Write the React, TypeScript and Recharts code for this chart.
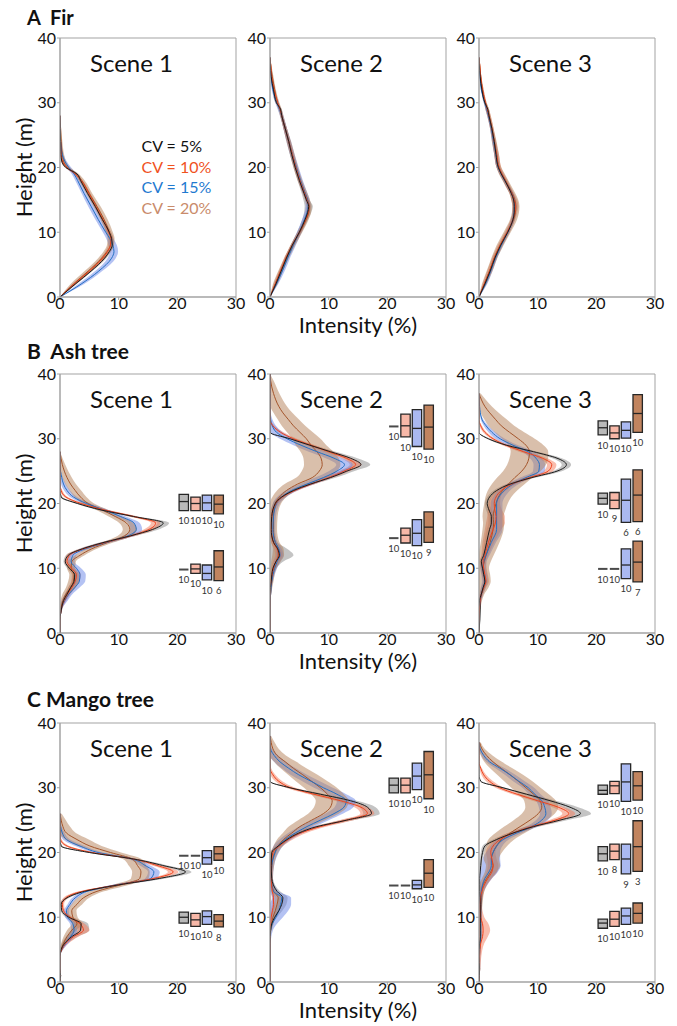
import React from "react";
import { ComposedChart, Area, Line, XAxis, YAxis, ReferenceArea, ReferenceLine } from "recharts";

const FONT = "Lato, 'Open Sans', sans-serif";
const AXIS = "#a3a3a3";

const seriesKeys = ["cv5", "cv10", "cv15", "cv20"];
const lineColors = ["#1c1c1c", "#ef431d", "#2470c4", "#a4552b"];
const bandColors = ["#8a8a8a", "#f47a5a", "#6a86e8", "#b47f58"];
const boxFills = ["#b9b9b9", "#f7b8a8", "#aab9f1", "#c1845f"];
const legendLabels = ["CV = 5%", "CV = 10%", "CV = 15%", "CV = 20%"];
const legendColors = ["#111111", "#f0521e", "#1f7ad0", "#c98b6b"];
const xTicks = [0, 10, 20, 30];
const yTicks = [0, 10, 20, 30, 40];
const boxSlots = [21.1, 23.1, 25.05, 27.05];

// ---- A Fir ----
const firS1H = [0, 2, 4, 6, 7, 8, 9, 10, 12, 14, 16, 18, 19, 20, 21, 22, 24, 26, 28];
const firS1Lines = [
  [0, 2.6, 5.3, 7.6, 8.4, 8.9, 8.8, 8.4, 7.2, 6.0, 4.7, 3.5, 2.9, 1.0, 0.3, 0.15, 0.1, 0.05, 0],
  [0, 2.4, 5.0, 7.3, 8.1, 8.6, 8.7, 8.3, 7.3, 6.1, 4.9, 3.6, 2.6, 1.2, 0.4, 0.2, 0.1, 0, 0],
  [0, 3.6, 6.6, 8.8, 9.2, 9.0, 8.5, 7.8, 6.5, 5.3, 4.1, 3.0, 2.4, 1.5, 0.8, 0.4, 0.1, 0, 0],
  [0, 2.3, 4.8, 7.1, 8.0, 8.6, 8.7, 8.4, 7.5, 6.3, 5.0, 3.7, 2.8, 1.3, 0.6, 0.4, 0.2, 0.1, 0],
];
const firS1Bands = [
  [0, 0.2, 0.2, 0.3, 0.3, 0.3, 0.3, 0.3, 0.2, 0.2, 0.2, 0.2, 0.2, 0.2, 0.1, 0.1, 0, 0, 0],
  [0, 0.3, 0.3, 0.4, 0.4, 0.4, 0.4, 0.4, 0.3, 0.3, 0.3, 0.3, 0.3, 0.3, 0.2, 0.1, 0.1, 0, 0],
  [0, 0.5, 0.6, 0.7, 0.7, 0.7, 0.6, 0.5, 0.5, 0.5, 0.4, 0.4, 0.4, 0.4, 0.3, 0.2, 0.1, 0, 0],
  [0, 0.5, 0.6, 0.6, 0.6, 0.6, 0.6, 0.6, 0.6, 0.6, 0.5, 0.5, 0.4, 0.4, 0.4, 0.3, 0.2, 0.1, 0],
];

const firS2H = [0, 2, 4, 6, 8, 10, 12, 13, 14, 15, 16, 18, 20, 22, 24, 26, 28, 29, 30, 32, 34, 36, 37];
const firS2Lines = [
  [0, 1.0, 1.9, 2.8, 3.8, 5.0, 6.0, 6.4, 6.6, 6.2, 5.8, 5.0, 4.3, 3.7, 3.2, 2.6, 2.0, 1.8, 1.1, 0.6, 0.2, 0.05, 0],
  [0, 0.9, 1.8, 2.7, 3.8, 5.0, 6.1, 6.5, 6.6, 6.3, 5.9, 5.1, 4.4, 3.8, 3.2, 2.6, 2.0, 1.7, 1.3, 0.7, 0.3, 0.1, 0],
  [0, 1.1, 2.1, 3.0, 4.0, 5.0, 5.9, 6.3, 6.5, 6.4, 6.0, 5.2, 4.5, 3.8, 3.2, 2.6, 2.0, 1.6, 1.2, 0.5, 0.2, 0, 0],
  [0, 0.9, 1.8, 2.8, 3.9, 5.1, 6.2, 6.6, 6.7, 6.4, 6.0, 5.1, 4.4, 3.8, 3.2, 2.6, 2.0, 1.7, 1.3, 0.8, 0.4, 0.1, 0],
];
const firS2Bands = [
  [0, 0.2, 0.3, 0.3, 0.3, 0.4, 0.5, 0.6, 0.7, 0.5, 0.4, 0.3, 0.3, 0.3, 0.3, 0.3, 0.2, 0.2, 0.2, 0.2, 0.1, 0, 0],
  [0, 0.3, 0.3, 0.3, 0.3, 0.3, 0.3, 0.3, 0.3, 0.3, 0.3, 0.3, 0.3, 0.3, 0.3, 0.3, 0.2, 0.2, 0.2, 0.2, 0.1, 0.1, 0],
  [0, 0.3, 0.4, 0.4, 0.4, 0.4, 0.4, 0.4, 0.4, 0.4, 0.4, 0.4, 0.4, 0.4, 0.4, 0.3, 0.3, 0.3, 0.3, 0.2, 0.1, 0, 0],
  [0, 0.4, 0.4, 0.4, 0.4, 0.4, 0.4, 0.4, 0.4, 0.4, 0.4, 0.4, 0.4, 0.4, 0.4, 0.3, 0.3, 0.3, 0.3, 0.2, 0.2, 0.1, 0],
];

const firS3H = [0, 2, 4, 6, 8, 10, 12, 13, 14, 15, 16, 17, 18, 19, 20, 22, 24, 26, 28, 29, 30, 32, 34, 36, 37];
const firS3Lines = [
  [0, 1.0, 1.9, 2.7, 3.7, 4.9, 5.8, 6.0, 6.0, 5.9, 5.5, 5.0, 4.4, 3.8, 3.3, 2.9, 2.6, 2.2, 1.7, 1.5, 1.0, 0.5, 0.2, 0.05, 0],
  [0, 0.9, 1.8, 2.6, 3.6, 4.8, 5.8, 6.1, 6.2, 6.0, 5.6, 5.0, 4.5, 3.9, 3.4, 3.0, 2.6, 2.2, 1.7, 1.4, 1.1, 0.6, 0.3, 0.1, 0],
  [0, 1.1, 2.0, 2.8, 3.8, 4.9, 5.8, 6.0, 6.1, 6.0, 5.6, 5.0, 4.4, 3.8, 3.3, 2.9, 2.5, 2.1, 1.6, 1.3, 1.0, 0.4, 0.2, 0, 0],
  [0, 0.9, 1.8, 2.6, 3.6, 4.8, 5.9, 6.2, 6.3, 6.1, 5.7, 5.1, 4.5, 3.9, 3.4, 3.0, 2.6, 2.2, 1.7, 1.4, 1.1, 0.6, 0.3, 0.1, 0],
];
const firS3Bands = [
  [0, 0.2, 0.2, 0.3, 0.3, 0.3, 0.3, 0.3, 0.3, 0.3, 0.3, 0.3, 0.3, 0.3, 0.3, 0.3, 0.3, 0.2, 0.2, 0.2, 0.2, 0.1, 0.1, 0, 0],
  [0, 0.3, 0.4, 0.4, 0.4, 0.4, 0.4, 0.4, 0.5, 0.5, 0.4, 0.4, 0.4, 0.4, 0.4, 0.4, 0.3, 0.3, 0.3, 0.3, 0.2, 0.2, 0.1, 0.1, 0],
  [0, 0.3, 0.3, 0.3, 0.3, 0.3, 0.3, 0.3, 0.3, 0.3, 0.3, 0.3, 0.3, 0.3, 0.3, 0.3, 0.3, 0.2, 0.2, 0.2, 0.2, 0.1, 0.1, 0, 0],
  [0, 0.4, 0.5, 0.5, 0.6, 0.6, 0.6, 0.6, 0.6, 0.6, 0.5, 0.5, 0.5, 0.5, 0.4, 0.4, 0.4, 0.3, 0.3, 0.3, 0.2, 0.2, 0.1, 0.1, 0],
];

// ---- B Ash tree ----
const ashS1H = [0, 2, 3, 4, 5, 6, 7, 8, 9, 10, 11, 12, 13, 14, 15, 16, 17, 18, 19, 20, 21, 22, 23, 24, 26, 28];
const ashS1Lines = [
  [0, 0, 0.1, 0.3, 0.6, 1.2, 1.8, 2.4, 2.5, 1.6, 0.9, 1.4, 3.8, 7.5, 12.0, 15.8, 17.6, 12.5, 7.0, 3.0, 0.2, 0, 0, 0, 0, 0],
  [0, 0, 0.1, 0.3, 0.7, 1.3, 2.0, 2.6, 2.8, 2.0, 1.2, 1.6, 4.0, 7.8, 12.0, 15.2, 16.3, 12.5, 7.6, 3.6, 1.0, 0.2, 0, 0, 0, 0],
  [0, 0, 0.1, 0.3, 0.8, 1.5, 2.5, 3.3, 3.4, 2.8, 1.9, 2.2, 4.3, 8.0, 11.6, 13.0, 12.6, 10.3, 7.5, 4.5, 2.3, 1.2, 0.6, 0.3, 0, 0],
  [0, 0, 0.1, 0.2, 0.5, 1.0, 1.8, 2.3, 2.4, 1.9, 2.0, 3.4, 5.4, 8.2, 11.0, 11.9, 11.3, 9.4, 7.2, 4.8, 3.5, 2.6, 1.8, 1.2, 0.4, 0],
];
const ashS1Bands = [
  [0, 0, 0.1, 0.2, 0.3, 0.3, 0.4, 0.4, 0.4, 0.4, 0.3, 0.4, 0.5, 0.6, 0.8, 1.0, 1.0, 0.8, 0.6, 0.4, 0.2, 0, 0, 0, 0, 0],
  [0, 0, 0.1, 0.2, 0.4, 0.5, 0.6, 0.7, 0.8, 0.6, 0.4, 0.5, 0.6, 0.7, 0.8, 0.9, 0.8, 0.7, 0.6, 0.5, 0.3, 0.2, 0, 0, 0, 0],
  [0, 0, 0.1, 0.2, 0.5, 0.6, 0.8, 1.0, 1.0, 0.8, 0.6, 0.6, 0.7, 0.8, 0.9, 1.0, 1.0, 0.9, 0.8, 0.7, 0.6, 0.5, 0.4, 0.2, 0, 0],
  [0, 0, 0.1, 0.2, 0.4, 0.6, 0.8, 0.9, 0.8, 0.7, 0.7, 0.8, 0.9, 1.0, 1.2, 1.2, 1.2, 1.1, 1.0, 1.0, 1.0, 1.0, 0.9, 0.8, 0.5, 0],
];
const ashS1Boxes = [
  [[18.9, 20.3, 21.4, 10], [18.9, 20.0, 21.0, 10], [18.9, 20.1, 21.3, 10], [18.4, 19.9, 21.3, 10]],
  [[9.8, 9.8, 9.8, 10], [9.2, 9.9, 10.65, 10], [8.2, 9.2, 10.5, 10], [8.1, 10.2, 12.7, 6]],
];

const ashS2H = [0, 4, 6, 8, 10, 11, 12, 13, 14, 16, 18, 20, 21, 22, 23, 24, 25, 26, 27, 28, 29, 30, 31, 32, 33, 34, 35, 37, 39, 40];
const ashS2Lines = [
  [0, 0, 0, 0.2, 0.5, 1.0, 1.6, 1.3, 0.6, 0.2, 0.3, 0.9, 2.0, 4.0, 6.9, 10.3, 13.1, 15.5, 13.7, 10.3, 6.8, 3.4, 0, 0, 0, 0, 0, 0, 0, 0],
  [0, 0, 0, 0.2, 0.6, 1.0, 1.5, 1.2, 0.6, 0.2, 0.3, 1.0, 2.1, 4.2, 7.0, 10.0, 12.6, 14.6, 13.0, 10.0, 7.0, 4.0, 1.8, 0.5, 0, 0, 0, 0, 0, 0],
  [0, 0, 0.1, 0.3, 0.8, 1.2, 1.7, 1.5, 0.9, 0.5, 0.6, 1.1, 2.0, 3.7, 6.3, 9.1, 11.4, 12.7, 10.9, 8.0, 5.3, 2.9, 1.1, 0.4, 0.1, 0, 0, 0, 0, 0],
  [0, 0, 0.1, 0.3, 0.6, 1.0, 1.4, 1.4, 0.9, 0.6, 0.6, 0.9, 1.6, 2.8, 4.7, 7.2, 8.4, 8.9, 8.7, 8.0, 7.0, 6.2, 5.1, 4.0, 3.1, 2.2, 1.5, 0.6, 0.1, 0],
];
const ashS2Bands = [
  [0, 0, 0, 0.2, 0.6, 1.2, 2.4, 1.6, 0.6, 0.2, 0.3, 0.4, 0.5, 0.6, 0.8, 1.0, 1.2, 1.6, 1.2, 0.9, 0.6, 0.4, 0, 0, 0, 0, 0, 0, 0, 0],
  [0, 0, 0, 0.2, 0.4, 0.5, 0.6, 0.5, 0.4, 0.3, 0.3, 0.4, 0.5, 0.6, 0.7, 0.8, 0.9, 1.0, 0.9, 0.8, 0.7, 0.6, 0.5, 0.3, 0.1, 0, 0, 0, 0, 0],
  [0, 0, 0.1, 0.2, 0.4, 0.5, 0.6, 0.5, 0.4, 0.4, 0.4, 0.6, 0.8, 1.0, 1.2, 1.4, 1.4, 1.4, 1.4, 1.4, 1.3, 1.2, 1.0, 0.6, 0.3, 0.1, 0, 0, 0, 0],
  [0, 0, 0.1, 0.3, 0.5, 0.8, 1.0, 0.9, 0.7, 0.6, 0.7, 1.0, 1.2, 1.6, 2.2, 2.7, 3.0, 3.1, 3.0, 2.8, 2.6, 2.4, 2.2, 2.0, 1.8, 1.6, 1.4, 1.0, 0.5, 0],
];
const ashS2Boxes = [
  [[31.9, 31.9, 31.9, 10], [30.3, 32.0, 33.8, 10], [28.8, 31.6, 34.5, 10], [28.4, 31.8, 35.2, 10]],
  [[14.65, 14.65, 14.65, 10], [13.9, 15.1, 16.2, 10], [13.5, 15.4, 17.5, 10], [14.0, 16.35, 18.7, 9]],
];

const ashS3H = [0, 4, 5, 6, 7, 8, 9, 10, 11, 12, 14, 16, 17, 18, 19, 20, 21, 22, 23, 24, 25, 26, 27, 28, 29, 30, 31, 32, 33, 35, 37];
const ashS3Lines = [
  [0, 0.2, 0.1, 0.4, 0.7, 1.0, 0.8, 0.6, 0.4, 0.8, 1.3, 1.8, 2.1, 2.1, 1.7, 1.4, 1.8, 3.0, 5.3, 9.0, 13.3, 14.9, 13.3, 9.3, 4.7, 1.6, 0, 0, 0, 0, 0],
  [0, 0.1, 0.2, 0.4, 0.8, 1.2, 1.0, 0.8, 0.7, 1.0, 1.6, 2.4, 2.8, 2.9, 2.7, 2.6, 2.9, 3.8, 5.6, 8.6, 11.8, 12.4, 10.8, 7.6, 4.6, 2.4, 1.0, 0.3, 0, 0, 0],
  [0, 0.1, 0.2, 0.4, 0.7, 1.0, 0.9, 0.7, 0.8, 1.2, 2.1, 3.0, 3.0, 3.0, 3.0, 3.0, 3.4, 4.3, 5.8, 8.0, 10.2, 10.3, 9.7, 8.4, 5.8, 3.6, 2.2, 1.2, 0.5, 0.1, 0],
  [0, 0.1, 0.2, 0.4, 0.8, 1.0, 0.9, 0.7, 0.9, 1.2, 1.9, 2.4, 2.5, 2.4, 2.6, 2.9, 3.3, 4.0, 5.0, 6.1, 7.3, 8.1, 8.5, 8.6, 8.0, 6.7, 5.2, 3.8, 2.8, 1.0, 0],
];
const ashS3Bands = [
  [0, 0.1, 0.1, 0.2, 0.3, 0.3, 0.3, 0.3, 0.3, 0.3, 0.4, 0.5, 0.5, 0.5, 0.5, 0.4, 0.4, 0.5, 0.6, 0.7, 0.8, 0.8, 0.8, 0.7, 0.5, 0.3, 0, 0, 0, 0, 0],
  [0, 0.1, 0.2, 0.3, 0.4, 0.5, 0.5, 0.5, 0.5, 0.6, 1.0, 1.4, 1.6, 1.5, 1.2, 1.0, 0.8, 0.8, 0.8, 0.8, 0.8, 0.8, 0.8, 0.8, 0.6, 0.4, 0.3, 0.2, 0, 0, 0],
  [0, 0.1, 0.2, 0.3, 0.4, 0.5, 0.5, 0.5, 0.5, 0.6, 0.8, 1.0, 1.0, 1.0, 1.0, 1.0, 1.0, 1.0, 1.0, 1.0, 1.0, 1.0, 1.0, 1.0, 0.9, 0.8, 0.6, 0.4, 0.2, 0, 0],
  [0, 0.2, 0.3, 0.5, 0.8, 1.0, 1.0, 1.0, 1.1, 1.3, 1.6, 1.8, 1.8, 1.8, 1.9, 2.0, 2.2, 2.5, 2.8, 3.0, 3.2, 3.3, 3.3, 3.2, 3.0, 2.8, 2.5, 2.2, 1.9, 1.2, 0.3],
];
const ashS3Boxes = [
  [[30.6, 31.7, 32.75, 10], [30.0, 30.9, 32.0, 10], [30.1, 31.3, 32.6, 10], [31.0, 33.9, 36.8, 10]],
  [[19.9, 20.8, 21.6, 10], [19.2, 20.5, 21.7, 9], [17.1, 20.5, 23.75, 6], [17.2, 21.3, 25.2, 6]],
  [[9.9, 9.9, 9.9, 10], [9.9, 9.9, 9.9, 10], [8.4, 10.5, 13.0, 10], [7.9, 10.95, 14.2, 7]],
];

// ---- C Mango tree ----
const mangoS1H = [0, 1, 2, 4, 5, 6, 7, 8, 9, 10, 11, 12, 13, 14, 15, 16, 17, 18, 19, 20, 21, 22, 23, 24, 25, 26];
const mangoS1Lines = [
  [0, 0.1, 0, 0, 0.2, 0.8, 2.0, 3.5, 3.6, 1.5, 0.3, 0.2, 1.2, 4.2, 10.0, 17.0, 21.4, 17.5, 12.5, 5.0, 0.2, 0, 0, 0, 0, 0],
  [0, 0.1, 0, 0, 0.3, 1.0, 2.3, 4.0, 3.4, 1.7, 0.6, 0.4, 1.0, 3.8, 9.8, 16.0, 19.3, 16.5, 12.5, 5.5, 1.2, 0.1, 0, 0, 0, 0],
  [0, 0.1, 0, 0, 0.3, 1.0, 1.8, 2.4, 2.2, 1.3, 1.1, 1.7, 2.6, 4.6, 9.6, 15.5, 16.0, 14.5, 12.3, 6.5, 3.4, 1.1, 0.4, 0.1, 0, 0],
  [0, 0.1, 0, 0, 0.2, 0.6, 1.2, 2.0, 2.9, 2.2, 2.0, 2.9, 4.0, 6.3, 10.3, 13.6, 13.8, 13.2, 12.3, 8.6, 5.1, 2.9, 1.1, 0.5, 0.2, 0],
];
const mangoS1Bands = [
  [0, 0, 0, 0, 0.2, 0.5, 1.0, 1.5, 1.2, 0.6, 0.2, 0.2, 0.4, 0.6, 0.8, 1.0, 1.0, 0.9, 0.7, 0.5, 0.2, 0, 0, 0, 0, 0],
  [0, 0, 0, 0, 0.2, 0.5, 0.8, 1.0, 0.8, 0.5, 0.3, 0.3, 0.4, 0.6, 0.8, 0.9, 0.9, 0.8, 0.6, 0.5, 0.4, 0.2, 0, 0, 0, 0],
  [0, 0, 0, 0, 0.2, 0.4, 0.5, 0.5, 0.5, 0.4, 0.4, 0.4, 0.5, 0.6, 0.8, 1.0, 1.0, 0.9, 0.8, 0.8, 0.8, 0.6, 0.4, 0.2, 0, 0],
  [0, 0, 0, 0, 0.2, 0.4, 0.6, 0.8, 0.9, 0.8, 0.8, 0.9, 1.0, 1.2, 1.4, 1.5, 1.5, 1.5, 1.6, 1.8, 2.0, 2.0, 1.6, 1.2, 0.8, 0.3],
];
const mangoS1Boxes = [
  [[19.5, 19.5, 19.5, 10], [19.5, 19.5, 19.5, 10], [18.2, 19.2, 20.3, 10], [18.8, 19.8, 20.9, 10]],
  [[9.1, 10.0, 10.8, 10], [8.6, 9.6, 10.6, 10], [8.9, 10.1, 11.0, 10], [8.5, 9.4, 10.4, 8]],
];

const mangoS2H = [0, 4, 6, 8, 9, 10, 11, 12, 13, 14, 16, 18, 20, 21, 22, 23, 24, 25, 26, 27, 28, 29, 30, 31, 32, 33, 34, 35, 36, 37, 38];
const mangoS2Lines = [
  [0, 0, 0, 0.1, 0.3, 0.8, 1.5, 2.0, 2.2, 1.2, 0.3, 0.2, 0.3, 1.4, 2.9, 4.9, 8.0, 13.1, 17.3, 16.6, 13.7, 8.6, 3.4, 0, 0, 0, 0, 0, 0, 0, 0],
  [0, 0, 0, 0, 0.1, 0.2, 0.4, 0.6, 0.6, 0.4, 0.2, 0.2, 0.5, 1.6, 3.1, 5.2, 8.6, 13.0, 16.6, 15.5, 12.0, 7.5, 3.5, 1.5, 0.5, 0, 0, 0, 0, 0, 0],
  [0, 0, 0, 0.1, 0.4, 1.0, 1.5, 1.8, 2.0, 0.6, 0.2, 0.3, 0.9, 1.4, 2.6, 4.3, 6.3, 8.6, 10.9, 12.6, 13.0, 11.4, 9.1, 7.0, 4.9, 3.2, 1.7, 0.7, 0.1, 0, 0],
  [0, 0, 0, 0.1, 0.3, 0.5, 0.9, 1.2, 1.4, 0.6, 0.2, 0.3, 0.8, 1.4, 2.3, 3.7, 5.1, 7.1, 9.1, 10.3, 10.6, 9.8, 8.6, 7.1, 5.6, 4.0, 2.6, 1.2, 0.5, 0.2, 0],
];
const mangoS2Bands = [
  [0, 0, 0, 0.1, 0.2, 0.4, 0.6, 0.8, 0.8, 0.5, 0.2, 0.2, 0.3, 0.4, 0.5, 0.7, 0.9, 1.1, 1.4, 1.4, 1.1, 0.8, 0.5, 0, 0, 0, 0, 0, 0, 0, 0],
  [0, 0, 0, 0, 0.1, 0.2, 0.3, 0.3, 0.3, 0.2, 0.2, 0.3, 0.4, 0.6, 0.8, 1.0, 1.1, 1.2, 1.2, 1.1, 1.0, 0.9, 0.8, 0.6, 0.4, 0.2, 0, 0, 0, 0, 0],
  [0, 0, 0.1, 0.4, 0.8, 1.2, 1.6, 1.8, 1.6, 0.8, 0.3, 0.4, 0.6, 0.8, 1.0, 1.2, 1.3, 1.4, 1.5, 1.6, 1.6, 1.6, 1.6, 1.5, 1.4, 1.2, 1.0, 0.7, 0.3, 0, 0],
  [0, 0, 0, 0.2, 0.3, 0.4, 0.5, 0.5, 0.5, 0.4, 0.3, 0.4, 0.6, 0.8, 1.1, 1.5, 1.9, 2.3, 2.6, 2.8, 2.8, 2.8, 2.8, 2.7, 2.5, 2.2, 1.9, 1.5, 1.0, 0.6, 0.2],
];
const mangoS2Boxes = [
  [[29.2, 30.4, 31.5, 10], [29.2, 30.4, 31.5, 10], [29.7, 31.8, 33.8, 10], [28.3, 32.0, 35.6, 10]],
  [[14.9, 14.9, 14.9, 10], [14.9, 14.9, 14.9, 10], [14.4, 15.0, 15.7, 10], [14.6, 16.8, 18.9, 10]],
];

const mangoS3H = [0, 2, 4, 6, 7, 8, 9, 10, 12, 14, 15, 16, 17, 18, 19, 20, 21, 22, 23, 24, 25, 26, 27, 28, 29, 30, 31, 32, 33, 34, 35, 36, 37];
const mangoS3Lines = [
  [0, 0.1, 0, 0.1, 0.2, 0.2, 0.2, 0.2, 0.2, 0.1, 0.1, 0.1, 0.2, 0.3, 0.4, 0.6, 1.0, 3.0, 5.8, 9.3, 13.8, 17.3, 15.5, 12.1, 8.1, 4.1, 0.3, 0, 0, 0, 0, 0, 0],
  [0, 0.1, 0.1, 0.3, 0.6, 0.7, 0.6, 0.3, 0.2, 0.5, 0.9, 1.5, 2.2, 2.4, 2.2, 2.0, 2.4, 3.6, 5.8, 9.0, 13.0, 15.3, 13.5, 10.0, 6.5, 3.5, 1.8, 0.8, 0.3, 0, 0, 0, 0],
  [0, 0.1, 0.1, 0.2, 0.3, 0.3, 0.3, 0.3, 0.3, 0.4, 0.6, 1.0, 1.7, 2.1, 2.1, 2.4, 3.0, 4.1, 6.4, 9.0, 10.7, 11.4, 11.2, 10.7, 9.5, 8.4, 6.8, 5.3, 3.6, 1.8, 0.8, 0.2, 0],
  [0, 0.1, 0.1, 0.2, 0.3, 0.3, 0.3, 0.3, 0.4, 0.5, 0.7, 1.3, 2.0, 2.4, 2.1, 2.4, 3.0, 3.8, 5.3, 7.0, 8.7, 10.1, 10.7, 10.4, 9.3, 8.0, 6.7, 5.3, 3.8, 2.4, 1.3, 0.5, 0.1],
];
const mangoS3Bands = [
  [0, 0, 0, 0, 0.1, 0.1, 0.1, 0.1, 0.1, 0.1, 0.1, 0.1, 0.1, 0.2, 0.2, 0.3, 0.4, 0.6, 0.8, 1.0, 1.2, 1.8, 1.4, 1.0, 0.7, 0.4, 0.1, 0, 0, 0, 0, 0, 0],
  [0, 0.1, 0.3, 0.6, 0.9, 1.2, 1.0, 0.6, 0.3, 0.4, 0.5, 0.7, 0.9, 0.9, 0.8, 0.8, 0.8, 0.8, 0.9, 1.0, 1.1, 1.1, 1.0, 0.9, 0.8, 0.7, 0.6, 0.4, 0.2, 0, 0, 0, 0],
  [0, 0, 0, 0.1, 0.1, 0.1, 0.1, 0.1, 0.2, 0.4, 0.8, 1.2, 1.5, 1.6, 1.5, 1.2, 1.0, 1.0, 1.0, 1.0, 1.0, 1.0, 1.0, 1.0, 1.0, 1.0, 1.0, 0.9, 0.8, 0.6, 0.4, 0.2, 0],
  [0, 0, 0, 0.1, 0.1, 0.1, 0.1, 0.1, 0.2, 0.4, 0.6, 0.8, 1.0, 1.2, 1.3, 1.5, 1.8, 2.2, 2.5, 2.7, 2.8, 2.8, 2.8, 2.7, 2.6, 2.5, 2.4, 2.2, 1.9, 1.5, 1.0, 0.5, 0.2],
];
const mangoS3Boxes = [
  [[29.0, 29.6, 30.4, 10], [29.1, 30.3, 31.0, 10], [27.9, 30.9, 33.7, 10], [28.1, 30.3, 32.5, 10]],
  [[18.7, 19.8, 20.9, 10], [18.9, 20.2, 21.3, 8], [16.7, 19.0, 21.3, 9], [17.1, 20.9, 24.9, 3]],
  [[8.3, 9.1, 9.7, 10], [8.6, 9.7, 10.9, 10], [8.9, 10.2, 11.4, 10], [9.1, 10.6, 12.2, 10]],
];

const rowTitles = ["A  Fir", "B  Ash tree", "C Mango tree"];
const rowTitleBaselines = [25, 359, 707];
const colLefts = [60, 270, 479];
const rowTops = [38, 374, 723];
const PLOT_W = 176;
const PLOT_H = 259;

const panels = [
  { row: 0, col: 0, h: firS1H, lines: firS1Lines, bands: firS1Bands, boxes: [] as number[][][] },
  { row: 0, col: 1, h: firS2H, lines: firS2Lines, bands: firS2Bands, boxes: [] as number[][][] },
  { row: 0, col: 2, h: firS3H, lines: firS3Lines, bands: firS3Bands, boxes: [] as number[][][] },
  { row: 1, col: 0, h: ashS1H, lines: ashS1Lines, bands: ashS1Bands, boxes: ashS1Boxes },
  { row: 1, col: 1, h: ashS2H, lines: ashS2Lines, bands: ashS2Bands, boxes: ashS2Boxes },
  { row: 1, col: 2, h: ashS3H, lines: ashS3Lines, bands: ashS3Bands, boxes: ashS3Boxes },
  { row: 2, col: 0, h: mangoS1H, lines: mangoS1Lines, bands: mangoS1Bands, boxes: mangoS1Boxes },
  { row: 2, col: 1, h: mangoS2H, lines: mangoS2Lines, bands: mangoS2Bands, boxes: mangoS2Boxes },
  { row: 2, col: 2, h: mangoS3H, lines: mangoS3Lines, bands: mangoS3Bands, boxes: mangoS3Boxes },
];

function buildRows(h: number[], lines: number[][], bands: number[][]) {
  return h.map((height, i) => {
    const r: Record<string, any> = { h: height };
    seriesKeys.forEach((k, s) => {
      const v = lines[s][i];
      const w = bands[s][i];
      r[k] = v;
      r[k + "b"] = [Math.max(0, v - w), v + w];
    });
    return r;
  });
}

const tickStyle = { fill: "#111", fontSize: 16, fontFamily: FONT };

function Panel({ p }: { p: (typeof panels)[number] }) {
  const rows = buildRows(p.h, p.lines, p.bands);
  const left = colLefts[p.col] - 40;
  const top = rowTops[p.row] - 10;
  return (
    <div style={{ position: "absolute", left, top }}>
      <ComposedChart
        width={40 + PLOT_W + 10}
        height={10 + PLOT_H + 25}
        layout="vertical"
        data={rows}
        margin={{ top: 10, right: 10, bottom: 0, left: 0 }}
      >
        <XAxis
          type="number"
          domain={[0, 30]}
          ticks={xTicks}
          interval={0}
          allowDataOverflow
          height={25}
          axisLine={{ stroke: AXIS }}
          tickLine={{ stroke: AXIS }}
          tickSize={3}
          tickMargin={-2}
          tick={tickStyle}
        />
        <YAxis
          type="number"
          dataKey="h"
          domain={[0, 40]}
          ticks={yTicks}
          interval={0}
          reversed
          allowDataOverflow
          width={40}
          axisLine={{ stroke: AXIS }}
          tickLine={{ stroke: AXIS }}
          tickSize={3}
          tickMargin={1}
          tick={tickStyle}
        />
        <ReferenceArea x1={0} x2={30} y1={0} y2={40} fill="none" stroke={AXIS} strokeWidth={1} />
        {seriesKeys.map((k, s) => (
          <Area
            key={k + "b"}
            dataKey={k + "b"}
            type="monotone"
            stroke="none"
            fill={bandColors[s]}
            fillOpacity={0.5}
            dot={false}
            activeDot={false}
            isAnimationActive={false}
          />
        ))}
        {[...seriesKeys].reverse().map((k) => {
          const s = seriesKeys.indexOf(k);
          return (
            <Line
              key={k}
              dataKey={k}
              type="monotone"
              stroke={lineColors[s]}
              strokeWidth={1}
              dot={false}
              activeDot={false}
              isAnimationActive={false}
            />
          );
        })}
        {p.boxes.map((group, gi) =>
          group.map((b, s) => {
            const [lo, med, hi, n] = b;
            const c = boxSlots[s];
            const isDash = hi <= lo;
            return [
              !isDash && (
                <ReferenceArea
                  key={`a${gi}${s}`}
                  x1={c - 0.8}
                  x2={c + 0.8}
                  y1={lo}
                  y2={hi}
                  fill={boxFills[s]}
                  fillOpacity={1}
                  stroke="#262626"
                  strokeWidth={1.3}
                />
              ),
              <ReferenceLine
                key={`m${gi}${s}`}
                segment={[{ x: c - 0.8, y: med }, { x: c + 0.8, y: med }]}
                stroke={isDash ? "#4a4a4a" : "#262626"}
                strokeWidth={isDash ? 2 : 1.3}
              />,
              <ReferenceLine
                key={`n${gi}${s}`}
                segment={[{ x: c - 0.8, y: lo }, { x: c + 0.8, y: lo }]}
                stroke="none"
                label={{ value: String(n), position: "bottom", offset: 7, fontSize: 9.5, fill: "#333", fontFamily: FONT }}
              />,
            ];
          })
        )}
      </ComposedChart>
    </div>
  );
}

export default function App() {
  return (
    <div style={{ position: "absolute", left: 0, top: 0, width: 677, height: 1026, background: "#fff", fontFamily: FONT }}>
      {panels.map((p, i) => (
        <Panel key={i} p={p} />
      ))}
      <svg width={677} height={1026} style={{ position: "absolute", left: 0, top: 0, pointerEvents: "none" }}>
        {rowTitles.map((t, r) => (
          <text key={t} x={27} y={rowTitleBaselines[r]} fontFamily={FONT} fontWeight={700} fontSize={r === 0 ? 20 : 21} fill="#111" style={{ whiteSpace: "pre" }}>
            {t}
          </text>
        ))}
        {panels.map((p, i) => (
          <text key={"s" + i} x={colLefts[p.col] + 30} y={rowTops[p.row] + 34} fontFamily={FONT} fontSize={24} fill="#111">
            {`Scene ${p.col + 1}`}
          </text>
        ))}
        {rowTops.map((t, r) => (
          <text
            key={"hy" + r}
            x={32}
            y={t + PLOT_H / 2}
            fontFamily={FONT}
            fontSize={22}
            fill="#111"
            textAnchor="middle"
            transform={`rotate(-90 32 ${t + PLOT_H / 2})`}
          >
            Height (m)
          </text>
        ))}
        {rowTops.map((t, r) => (
          <text key={"ix" + r} x={colLefts[1] + PLOT_W / 2} y={t + PLOT_H + 36} fontFamily={FONT} fontSize={22} fill="#111" textAnchor="middle">
            Intensity (%)
          </text>
        ))}
        {legendLabels.map((l, s) => (
          <text key={l} x={141.5} y={152 + s * 20.5} fontFamily={FONT} fontSize={16} fill={legendColors[s]}>
            {l}
          </text>
        ))}
      </svg>
    </div>
  );
}
